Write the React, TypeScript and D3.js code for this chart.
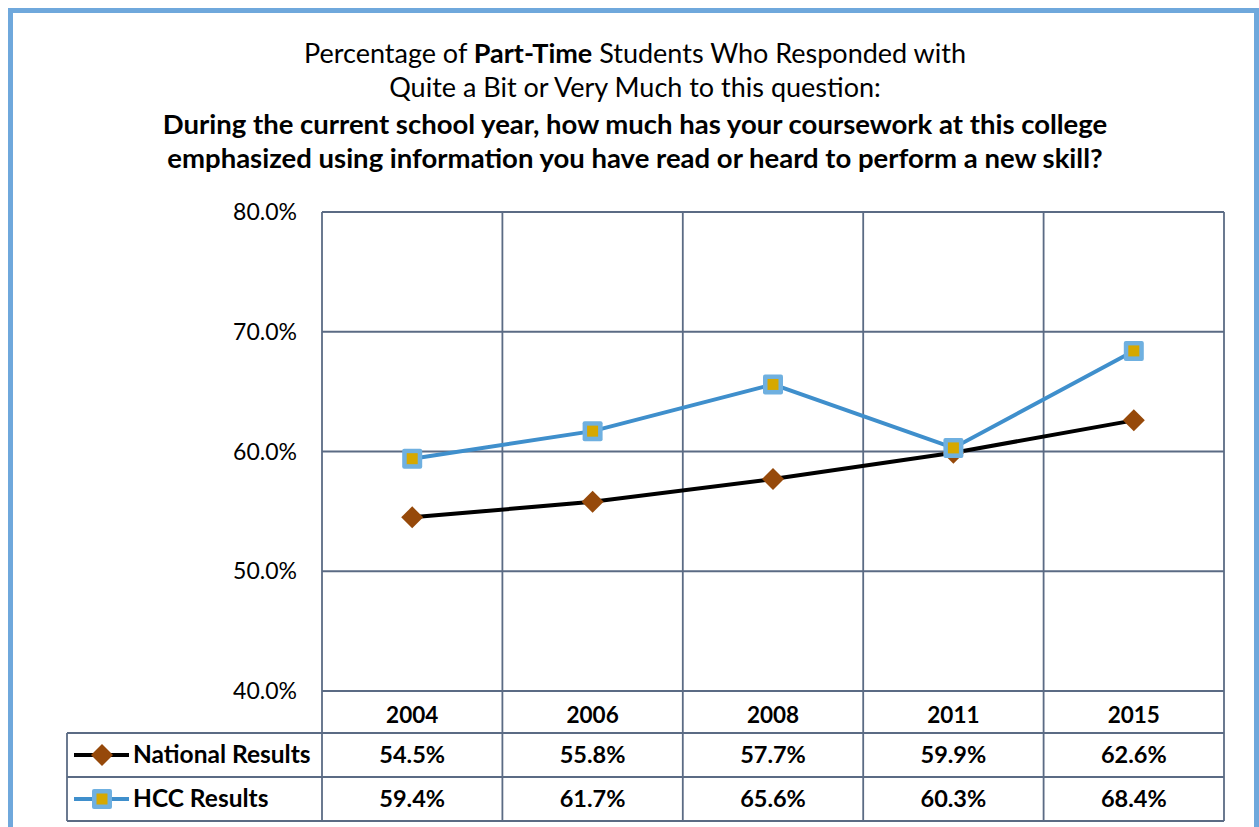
import React from "react";
import * as d3 from "d3";

const years = ["2004", "2006", "2008", "2011", "2015"];
const nationalValues = [54.5, 55.8, 57.7, 59.9, 62.6];
const hccValues = [59.4, 61.7, 65.6, 60.3, 68.4];
const yTicks = [40, 50, 60, 70, 80];
const seriesNames = ["National Results", "HCC Results"];

const W = 1259, H = 827;
const FONT = "Lato, 'Open Sans', sans-serif";

export default function App() {
  const left = 322, right = 1224, top = 212, bottom = 691;
  const x = d3.scaleBand<string>().domain(years).range([left, right]);
  const y = d3.scaleLinear().domain([40, 80]).range([bottom, top]);
  const cx = (d: string) => (x(d) as number) + x.bandwidth() / 2;
  const line = d3.line<number>().x((_, i) => cx(years[i])).y((v) => y(v));
  const grid = "#5b6b84";
  const rowTops = [bottom, 733, 777, 821];
  const tableLeft = 67;

  const diamond = (px: number, py: number, r = 11) =>
    `M${px},${py - r}L${px + r},${py}L${px},${py + r}L${px - r},${py}Z`;
  const square = (px: number, py: number, key: string) => (
    <g key={key}>
      <rect x={px - 10} y={py - 10} width={20} height={20} rx={2} fill="#6fb0e0" />
      <rect x={px - 5.5} y={py - 5.5} width={11} height={11} fill="#d6a800" />
    </g>
  );

  return (
    <svg width={W} height={H} style={{ position: "absolute", left: 0, top: 0, background: "#fff" }} fontFamily={FONT}>
      <rect x={10.5} y={10.5} width={1246} height={900} fill="none" stroke="#6fa8dc" strokeWidth={5} />
      <g textAnchor="middle" fill="#000">
        <text x={635} y={63} fontSize={27}>
          Percentage of <tspan fontWeight="bold">Part-Time</tspan> Students Who Responded with
        </text>
        <text x={635} y={97} fontSize={27}>Quite a Bit or Very Much to this question:</text>
        <text x={635} y={134} fontSize={27.5} fontWeight="bold">
          During the current school year, how much has your coursework at this college
        </text>
        <text x={635} y={168} fontSize={27.5} fontWeight="bold">
          emphasized using information you have read or heard to perform a new skill?
        </text>
      </g>
      {/* horizontal grid */}
      {yTicks.map((t) => (
        <line key={t} x1={left} x2={right} y1={y(t)} y2={y(t)} stroke={grid} strokeWidth={1.8} />
      ))}
      {/* vertical grid through table */}
      {years.map((d) => (
        <line key={d} x1={x(d) as number} x2={x(d) as number} y1={top} y2={rowTops[3]} stroke={grid} strokeWidth={1.8} />
      ))}
      <line x1={right} x2={right} y1={top} y2={rowTops[3]} stroke={grid} strokeWidth={1.8} />
      <line x1={tableLeft} x2={tableLeft} y1={rowTops[1]} y2={rowTops[3]} stroke={grid} strokeWidth={1.8} />
      {rowTops.slice(1).map((r) => (
        <line key={r} x1={tableLeft} x2={right} y1={r} y2={r} stroke={grid} strokeWidth={1.8} />
      ))}
      {/* y tick labels */}
      {yTicks.map((t) => (
        <text key={t} x={297} y={y(t) + 8} fontSize={23} textAnchor="end" fill="#000">
          {d3.format(".1f")(t)}%
        </text>
      ))}
      {/* year headers */}
      {years.map((d) => (
        <text key={d} x={cx(d)} y={723} fontSize={22.5} fontWeight="bold" textAnchor="middle">{d}</text>
      ))}
      {/* values rows */}
      {[nationalValues, hccValues].map((vals, r) =>
        vals.map((v, i) => (
          <text key={`${r}-${i}`} x={cx(years[i])} y={(rowTops[r + 1] + rowTops[r + 2]) / 2 + 8} fontSize={23.5} fontWeight="bold" textAnchor="middle">
            {v.toFixed(1)}%
          </text>
        ))
      )}
      {/* legend */}
      {seriesNames.map((name, r) => {
        const ly = (rowTops[r + 1] + rowTops[r + 2]) / 2;
        return (
          <g key={name}>
            <line x1={74} x2={129} y1={ly} y2={ly} stroke={r === 0 ? "#000" : "#3f8fcc"} strokeWidth={4} />
            {r === 0 ? <path d={diamond(102, ly, 11)} fill="#96490a" /> : square(102, ly, "lg")}
            <text x={133} y={ly + 8} fontSize={24.5} fontWeight="bold">{name}</text>
          </g>
        );
      })}
      {/* lines */}
      <path d={line(nationalValues) || ""} fill="none" stroke="#000" strokeWidth={4} />
      {nationalValues.map((v, i) => (
        <path key={i} d={diamond(cx(years[i]), y(v), 11)} fill="#96490a" />
      ))}
      <path d={line(hccValues) || ""} fill="none" stroke="#3f8fcc" strokeWidth={4} />
      {hccValues.map((v, i) => square(cx(years[i]), y(v), `h${i}`))}
    </svg>
  );
}
